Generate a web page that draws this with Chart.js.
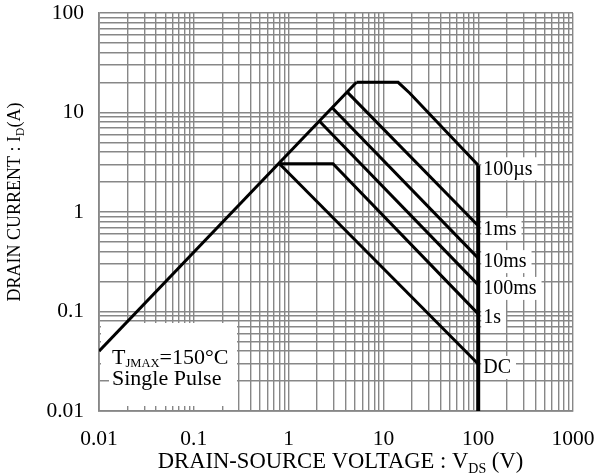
<!DOCTYPE html>
<html>
<head>
<meta charset="utf-8">
<script src="https://cdn.jsdelivr.net/npm/chart.js@4.4.0/dist/chart.umd.min.js"></script>
<style>
    html, body { margin: 0; padding: 0; background: #fff; }
    #wrap { width: 606px; height: 474px; }
</style>
</head>
<body>
<div id="wrap"><canvas id="soaChart" width="606" height="474"></canvas></div>
<script>
// ===========================
// SOA data
// ===========================

const rdsLimitV = [0.01, 5.2];
const rdsLimitI = [0.04, 20.1];

const pulse100usV = [5.2, 14.3, 18.9, 100];
const pulse100usI = [20.1, 20.1, 15.7, 2.95];

const pulse1msV = [4.13, 100];
const pulse1msI = [16.1, 0.727];

const pulse10msV = [2.9, 100];
const pulse10msI = [11.1, 0.344];

const pulse100msV = [2.13, 100];
const pulse100msI = [8.13, 0.185];

const pulse1sV = [0.8, 2.94, 100];
const pulse1sI = [3.05, 3.05, 0.0946];

const dcV = [0.8, 100];
const dcI = [3.05, 0.0297];

const vdssV = [100, 100];
const vdssI = [2.95, 0.01];

const curveLabels = ['100µs', '1ms', '10ms', '100ms', '1s', 'DC'];
const curveLabelI = [2.95, 0.727, 0.344, 0.185, 0.0946, 0.0297];
const curveLabelV = 100;

const xTickLabels = ['0.01', '0.1', '1', '10', '100', '1000'];
const yTickLabels = ['0.01', '0.1', '1', '10', '100'];

const SERIF = "'Liberation Serif', 'Times New Roman', serif";
const GRID = '#878787';

// ===========================
// Helpers
// ===========================

function series(vs, is) {
    return vs.map((v, k) => ({ x: v, y: is[k] }));
}

// 1..9 x 10^n gridlines for every decade
function decadeTicks(labels) {
    const lo = Math.round(Math.log10(Number(labels[0])));
    const hi = Math.round(Math.log10(Number(labels[labels.length - 1])));
    const ticks = [];
    for (let e = lo; e < hi; e++) {
        for (let m = 1; m <= 9; m++) {
            ticks.push({ value: Number((m * Math.pow(10, e)).toPrecision(6)) });
        }
    }
    ticks.push({ value: Number(labels[labels.length - 1]) });
    return ticks;
}

function line(data, width) {
    return {
        data: data,
        showLine: true,
        borderColor: '#000',
        borderWidth: width || 3,
        pointRadius: 0,
        fill: false,
        tension: 0
    };
}

// text runs with subscripts: [{t, s, dy}]
function drawRuns(ctx, runs, x, y, align) {
    let total = 0;
    runs.forEach(r => {
        ctx.font = r.s + 'px ' + SERIF;
        r.w = ctx.measureText(r.t).width;
        total += r.w;
    });
    let cx = align === 'center' ? x - total / 2 : x;
    ctx.textAlign = 'left';
    ctx.textBaseline = 'alphabetic';
    ctx.fillStyle = '#000';
    runs.forEach(r => {
        ctx.font = r.s + 'px ' + SERIF;
        ctx.fillText(r.t, cx, y + (r.dy || 0));
        cx += r.w;
    });
}

// ===========================
// Decorations plugin
// ===========================

const soaDecor = {
    id: 'soaDecor',
    beforeDatasetsDraw(chart) {
        const ctx = chart.ctx;
        ctx.save();
        ctx.fillStyle = '#fff';
        ctx.fillRect(101, 323, 136, 50);
        ctx.fillRect(109, 372, 128, 34);
        ctx.restore();
    },
    afterDatasetsDraw(chart) {
        const ctx = chart.ctx;
        const xs = chart.scales.x;
        const ys = chart.scales.y;
        ctx.save();

        // curve labels at the 100 V end
        const lx = xs.getPixelForValue(curveLabelV) + 5;
        ctx.font = '20px ' + SERIF;
        curveLabels.forEach((txt, k) => {
            const py = ys.getPixelForValue(curveLabelI[k]) + 3;
            const w = ctx.measureText(txt).width;
            ctx.fillStyle = '#fff';
            ctx.fillRect(lx - 2, py - 11, w + 7, 23);
            ctx.fillStyle = '#000';
            ctx.textAlign = 'left';
            ctx.textBaseline = 'middle';
            ctx.fillText(txt, lx, py + 1);
        });

        // conditions note
        drawRuns(ctx, [
            { t: 'T', s: 22 },
            { t: 'JMAX', s: 12.5, dy: 3 },
            { t: '=150°C', s: 22 }
        ], 112, 363.5, 'left');
        drawRuns(ctx, [{ t: 'Single Pulse', s: 22 }], 112, 385, 'left');

        // axis titles
        drawRuns(ctx, [
            { t: 'DRAIN-SOURCE VOLTAGE : V', s: 22.6 },
            { t: 'DS', s: 14, dy: 5 },
            { t: ' (V)', s: 22.6 }
        ], 340.5, 467.5, 'center');

        ctx.translate(20, 202);
        ctx.rotate(-Math.PI / 2);
        drawRuns(ctx, [
            { t: 'DRAIN CURRENT : I', s: 18 },
            { t: 'D', s: 11.5, dy: 3.5 },
            { t: '(A)', s: 18 }
        ], 0, 0, 'center');

        ctx.restore();
    }
};

// ===========================
// Chart
// ===========================

function createSoaChart() {
    const ctx = document.getElementById('soaChart');

    new Chart(ctx, {
        type: 'scatter',
        data: {
            datasets: [
                line(series(rdsLimitV, rdsLimitI)),
                line(series(pulse100usV, pulse100usI)),
                line(series(pulse1msV, pulse1msI)),
                line(series(pulse10msV, pulse10msI)),
                line(series(pulse100msV, pulse100msI)),
                line(series(pulse1sV, pulse1sI)),
                line(series(dcV, dcI)),
                line(series(vdssV, vdssI), 4)
            ]
        },
        options: {
            responsive: false,
            animation: false,
            devicePixelRatio: 1,
            layout: {
                padding: { left: 0, right: 33, top: 13, bottom: 0 }
            },
            plugins: {
                legend: { display: false },
                tooltip: { enabled: false }
            },
            scales: {
                x: {
                    type: 'logarithmic',
                    min: Number(xTickLabels[0]),
                    max: Number(xTickLabels[xTickLabels.length - 1]),
                    afterBuildTicks: s => { s.ticks = decadeTicks(xTickLabels); },
                    afterFit: s => { s.height = 63; s.paddingLeft = 0; s.paddingRight = 0; },
                    grid: { color: GRID, lineWidth: 1.4, drawTicks: false },
                    border: { color: GRID, width: 1.8 },
                    ticks: {
                        autoSkip: false,
                        maxRotation: 0,
                        padding: 15,
                        color: '#000',
                        font: { family: SERIF, size: 21.5 },
                        callback: v => xTickLabels.includes(String(v)) ? String(v) : ''
                    }
                },
                y: {
                    type: 'logarithmic',
                    min: Number(yTickLabels[0]),
                    max: Number(yTickLabels[yTickLabels.length - 1]),
                    afterBuildTicks: s => { s.ticks = decadeTicks(yTickLabels); },
                    afterFit: s => { s.width = 99; s.paddingTop = 0; s.paddingBottom = 0; },
                    grid: { color: GRID, lineWidth: 1.4, drawTicks: false },
                    border: { color: GRID, width: 1.8 },
                    ticks: {
                        autoSkip: false,
                        padding: 15,
                        color: '#000',
                        font: { family: SERIF, size: 21.5 },
                        callback: v => yTickLabels.includes(String(v)) ? String(v) : ''
                    }
                }
            }
        },
        plugins: [soaDecor]
    });
}

document.addEventListener('DOMContentLoaded', createSoaChart);
</script>
</body>
</html>
